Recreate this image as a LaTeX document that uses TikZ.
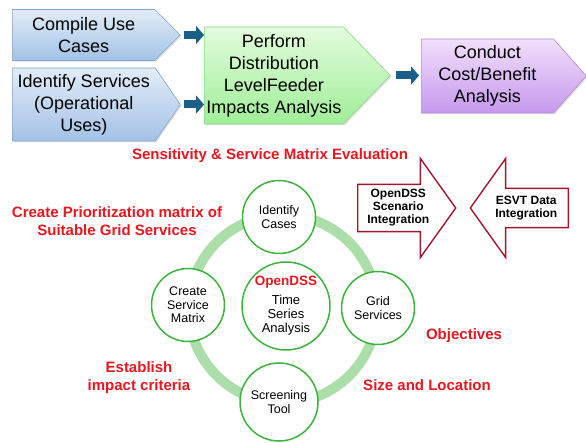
\documentclass[tikz,border=0pt]{standalone}
\usepackage{fontspec}
\setmainfont{Liberation Sans}
\usepackage{xcolor}
\usepackage{tikz}
\usetikzlibrary{arrows.meta,positioning,shapes.symbols,shapes.arrows,shadows}

\definecolor{usered}{RGB}{232,22,30}
\definecolor{flowblue}{RGB}{26,94,138}
\definecolor{ringgreen}{RGB}{172,222,170}
\definecolor{circgreen}{RGB}{60,180,60}
\definecolor{feedred}{RGB}{160,24,48}
\definecolor{bluetop}{RGB}{226,236,248}
\definecolor{bluebot}{RGB}{162,194,230}
\definecolor{blueedge}{RGB}{130,166,206}
\definecolor{greentop}{RGB}{226,252,220}
\definecolor{greenbot}{RGB}{160,238,152}
\definecolor{greenedge}{RGB}{140,216,134}
\definecolor{violettop}{RGB}{242,224,251}
\definecolor{violetbot}{RGB}{198,152,238}
\definecolor{violetedge}{RGB}{178,138,214}

\begin{document}
\begin{tikzpicture}[x=1pt, y=-1pt,
  stage/.style={signal, signal to=east, draw, line width=0.6pt, anchor=west, align=center,
    font=\fontsize{18}{22}\selectfont, inner sep=1pt,
    drop shadow={shadow xshift=1.2pt, shadow yshift=-1.2pt, opacity=0.25}},
  bluestage/.style={stage, draw=blueedge, top color=bluetop, bottom color=bluebot},
  greenstage/.style={stage, draw=greenedge, top color=greentop, bottom color=greenbot},
  violetstage/.style={stage, draw=violetedge, top color=violettop, bottom color=violetbot},
  flow/.style={line width=8pt, draw=flowblue, -{Triangle[length=8pt, width=18pt]}},
  ring/.style={line width=10pt, draw=ringgreen},
  phase/.style={circle, draw=circgreen, line width=1.5pt, fill=white, minimum size=73pt,
    inner sep=0pt, align=center, font=\fontsize{12.5}{13.5}\selectfont},
  hint/.style={font=\bfseries\fontsize{15}{18}\selectfont, text=usered, align=center, inner sep=0pt},
  feed/.style={single arrow, draw=feedred, line width=1.4pt, fill=white, minimum height=98pt,
    minimum width=99pt, single arrow head extend=25.5pt, single arrow tip angle=109,
    inner sep=4pt, align=center, font=\bfseries\fontsize{12}{13}\selectfont}
]
\useasboundingbox (0,0) rectangle (586,443);

% top row
\node[bluestage, minimum width=168pt, minimum height=51pt, signal pointer angle=90] (compile) at (12,35) {Compile Use\\Cases};
\node[bluestage, minimum width=168pt, minimum height=73pt, signal pointer angle=111] (services) at (12,104.5) {Identify Services\\(Operational\\Uses)};
\node[greenstage, minimum width=186pt, minimum height=97pt, signal pointer angle=92] (perform) at (204,75.5) {Perform\\Distribution\\LevelFeeder\\Impacts Analysis};
\node[violetstage, minimum width=165pt, minimum height=74pt, signal pointer angle=97] (cost) at (421,76) {Conduct\\Cost/Benefit\\Analysis};

\draw[flow, shorten <=3pt] (compile.east) -- (compile.east -| perform.west);
\draw[flow, shorten <=3pt] (services.east) -- (services.east -| perform.west);
\draw[flow, shorten <=5pt, shorten >=2pt] (perform.east) -- (perform.east -| cost.west);

% red notes
\node[hint, anchor=base] (sens) at (270,160) {Sensitivity \& Service Matrix Evaluation};
\node[hint] (prio) at (117,221) {Create Prioritization matrix of\\Suitable Grid Services};
\node[hint] (crit) at (139,378) {Establish\\impact criteria};
\node[hint, anchor=base] (obj) at (464,340) {Objectives};
\node[hint, anchor=base] (loc) at (427,390) {Size and Location};

% data feeds
\node[feed, anchor=tail] (scen) at (357,208) {OpenDSS\\Scenario\\Integration};
\node[feed, shape border rotate=180, anchor=tail] (esvt) at (569,208) {ESVT Data\\Integration};

% analysis cycle
\coordinate (hub) at (283,309);
\draw[ring] (hub) circle[radius=94pt];
\node[phase] (cases) at (279,217) {Identify\\Cases};
\node[phase] (matrix) at (188,305) {Create\\Service\\Matrix};
\node[phase] (grid) at (378,308) {Grid\\Services};
\node[phase, minimum size=78pt] (screen) at (279,402) {Screening\\Tool};
\node[phase, minimum size=88pt, font=\fontsize{13}{14}\selectfont] (tsa) at (286,306)
  {{\color{usered}\bfseries\fontsize{13.5}{14}\selectfont OpenDSS}\\[5pt]Time\\Series\\Analysis};

\end{tikzpicture}
\end{document}
